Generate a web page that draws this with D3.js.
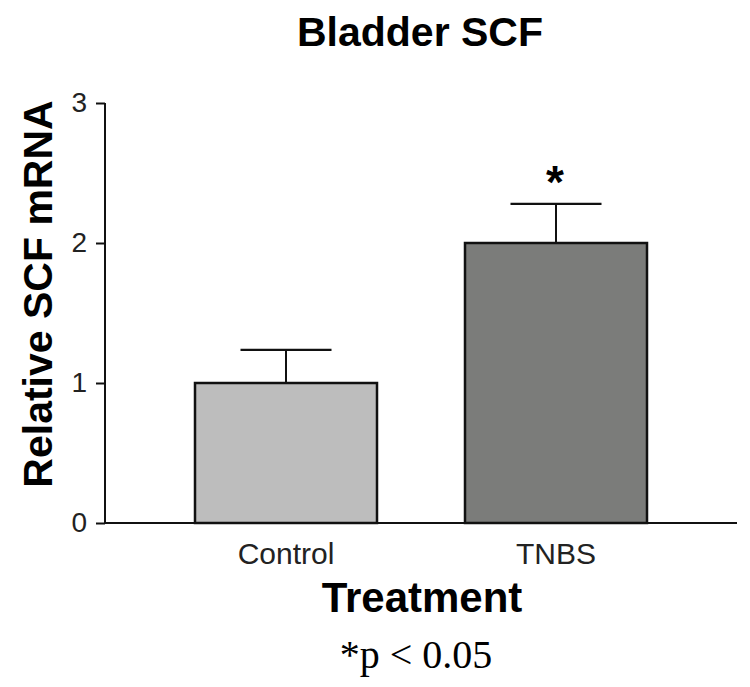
<!DOCTYPE html>
<html><head><meta charset="utf-8">
<script src="https://cdn.jsdelivr.net/npm/d3@7"></script>
<style>body{margin:0;background:#fff}svg{display:block}</style>
</head><body>
<script>
const categories = ["Control", "TNBS"];
const values = [1.0, 2.0];
const errors = [0.236, 0.279];
const colors = ["#bdbdbd", "#7b7c7a"];
const significance = ["", "*"];
const yTicks = [0, 1, 2, 3];

const W = 750, H = 687;
const svg = d3.select("body").append("svg").attr("width", W).attr("height", H);

const y = d3.scaleLinear().domain([0, 3]).range([523, 103]);
const x = d3.scaleBand().domain(categories).range([105, 737]).paddingInner(88/270).paddingOuter(1/3);

// bars
svg.selectAll("rect.bar").data(categories).enter().append("rect")
  .attr("x", d => x(d)).attr("width", x.bandwidth())
  .attr("y", (d,i) => y(values[i])).attr("height", (d,i) => y(0) - y(values[i]))
  .attr("fill", (d,i) => colors[i]).attr("stroke", "#111").attr("stroke-width", 2.5);

// error bars
const capW = 91;
categories.forEach((c,i) => {
  const cx = x(c) + x.bandwidth()/2;
  svg.append("line").attr("x1", cx).attr("x2", cx).attr("y1", y(values[i])).attr("y2", y(values[i]+errors[i]))
    .attr("stroke", "#111").attr("stroke-width", 2);
  svg.append("line").attr("x1", cx - capW/2).attr("x2", cx + capW/2).attr("y1", y(values[i]+errors[i])).attr("y2", y(values[i]+errors[i]))
    .attr("stroke", "#111").attr("stroke-width", 2.2);
  if (significance[i]) {
    svg.append("text").attr("x", cx - 1).attr("y", y(values[i]+errors[i]) - 6)
      .attr("text-anchor", "middle").attr("font-family", "Liberation Sans, Arial, sans-serif")
      .attr("font-weight", "bold").attr("font-size", 46).text(significance[i]);
  }
});

// y axis
const yAxis = svg.append("g").attr("transform", "translate(105,0)")
  .call(d3.axisLeft(y).tickValues(yTicks).tickFormat(d3.format("d")).tickSize(9).tickPadding(9));
yAxis.select(".domain").attr("stroke", "#111").attr("stroke-width", 2).attr("d", `M0,${y(3)}V${y(0)}`);
yAxis.selectAll(".tick line").attr("stroke", "#111").attr("stroke-width", 2);
yAxis.selectAll(".tick text").attr("font-family", "Liberation Sans, Arial, sans-serif").attr("font-size", 28).attr("fill", "#222");

// x axis
const xAxis = svg.append("g").attr("transform", `translate(0,${y(0)})`)
  .call(d3.axisBottom(x).tickSize(0).tickPadding(20));
xAxis.select(".domain").attr("stroke", "#111").attr("stroke-width", 2).attr("d", "M105,0H737");
xAxis.selectAll(".tick text").attr("font-family", "Liberation Sans, Arial, sans-serif").attr("font-size", 30).attr("fill", "#222");

// title
svg.append("text").attr("x", 420).attr("y", 46).attr("text-anchor", "middle")
  .attr("font-family", "Liberation Sans, Arial, sans-serif").attr("font-weight", "bold").attr("font-size", 41)
  .text("Bladder SCF");

// y label
svg.append("text").attr("transform", "translate(52,294) rotate(-90)").attr("text-anchor", "middle")
  .attr("font-family", "Liberation Sans, Arial, sans-serif").attr("font-weight", "bold").attr("font-size", 41)
  .text("Relative SCF mRNA");

// x label
svg.append("text").attr("x", 422).attr("y", 612).attr("text-anchor", "middle")
  .attr("font-family", "Liberation Sans, Arial, sans-serif").attr("font-weight", "bold").attr("font-size", 42)
  .text("Treatment");

// footnote
svg.append("text").attr("x", 416).attr("y", 668).attr("text-anchor", "middle")
  .attr("font-family", "Liberation Serif, Times New Roman, serif").attr("font-size", 40)
  .text("*p < 0.05");
</script>
</body></html>
